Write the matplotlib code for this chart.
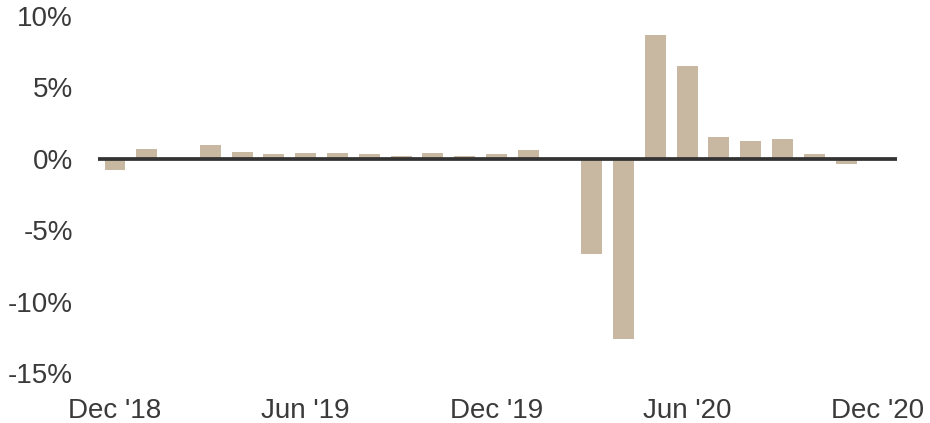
import numpy as np
import matplotlib
matplotlib.use("Agg")
import matplotlib.pyplot as plt

months = ["Dec '18", "Jan '19", "Feb '19", "Mar '19", "Apr '19", "May '19", "Jun '19",
          "Jul '19", "Aug '19", "Sep '19", "Oct '19", "Nov '19", "Dec '19",
          "Jan '20", "Feb '20", "Mar '20", "Apr '20", "May '20", "Jun '20",
          "Jul '20", "Aug '20", "Sep '20", "Oct '20", "Nov '20", "Dec '20"]
values = [-0.78, 0.70, np.nan, 0.96, 0.50, 0.31, 0.42, 0.42, 0.31, 0.22, 0.42, 0.22, 0.31,
          0.62, np.nan, -6.65, -12.6, 8.7, 6.5, 1.55, 1.24, 1.36, 0.31, -0.38, np.nan]
tick_labels = ["Dec '18", "Jun '19", "Dec '19", "Jun '20", "Dec '20"]
y_ticks = [10, 5, 0, -5, -10, -15]

plt.rcParams['font.family'] = ['Liberation Sans', 'DejaVu Sans']

fig = plt.figure(figsize=(9.3, 4.23), dpi=100)
ax = fig.add_axes([98/930, 1 - 373/423, (897-98)/930, (373-16)/423])

x = np.arange(len(months))
ax.bar(x, values, width=0.66, color="#c8b8a2", zorder=2)
ax.axhline(0, color="#333333", lw=2.7, zorder=3)

ax.set_xlim(-0.535, 24.6)
ax.set_ylim(-15, 10)
ax.set_yticks(y_ticks)
ax.set_yticklabels([f"{v}%" for v in y_ticks])
ax.set_xticks([x[months.index(t)] for t in tick_labels])
ax.set_xticklabels(tick_labels)
ax.tick_params(axis='both', length=0, labelsize=20, colors="#3a3a3a")
ax.tick_params(axis='y', pad=18)
ax.tick_params(axis='x', pad=18)
for s in ax.spines.values():
    s.set_visible(False)

fig.savefig("out.png", dpi=100)
